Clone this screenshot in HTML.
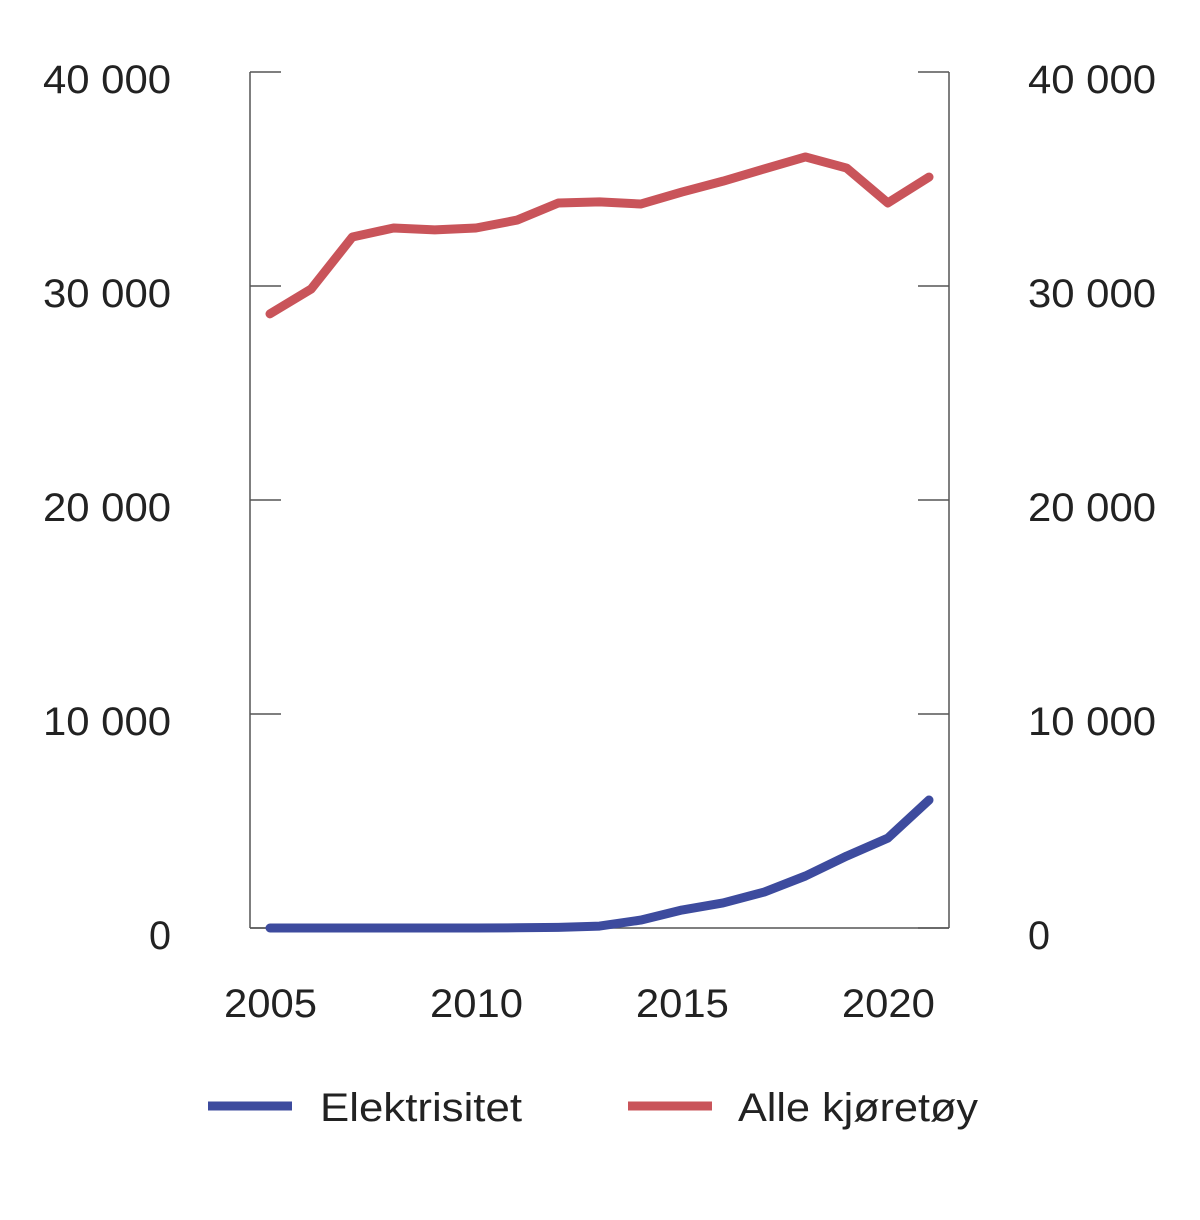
<!DOCTYPE html>
<html><head><meta charset="utf-8"><style>
body{margin:0;background:#fff}
svg text{font-family:"Liberation Sans",sans-serif;font-size:40px;fill:#222}
</style></head><body>
<svg id="chart" width="1200" height="1215" xmlns="http://www.w3.org/2000/svg">
<g id="axes"></g><g id="series"></g>
<g>
<line x1="208" y1="1106" x2="292" y2="1106" stroke="#3d4b9e" stroke-width="9"/>
<text x="320" y="1121" textLength="202" lengthAdjust="spacingAndGlyphs">Elektrisitet</text>
<line x1="628" y1="1106" x2="712" y2="1106" stroke="#c9545a" stroke-width="9"/>
<text x="738" y="1121" textLength="240" lengthAdjust="spacingAndGlyphs">Alle kjøretøy</text>
</g>
</svg>
<script>
const years=[2005,2006,2007,2008,2009,2010,2011,2012,2013,2014,2015,2016,2017,2018,2019,2020,2021];
const alle=[28700,29860,32290,32710,32620,32710,33080,33880,33930,33830,34390,34900,35470,36030,35510,33880,35090];
const elektrisitet=[0,0,0,0,0,0,10,30,90,370,840,1170,1680,2430,3360,4200,5980];
const yTicks=[0,10000,20000,30000,40000];
const yTickLabels=["0","10 000","20 000","30 000","40 000"];
const xTicks=[2005,2010,2015,2020];
const NS="http://www.w3.org/2000/svg";
const x=v=>270+(v-2005)*(929-270)/16;
const y=v=>928-v*856/40000;
function mk(tag,attrs,parent,txt){const e=document.createElementNS(NS,tag);for(const k in attrs)e.setAttribute(k,attrs[k]);if(txt!==undefined)e.textContent=txt;parent.appendChild(e);return e;}
const ax=document.getElementById('axes');
let e=mk('line',{x1:250,y1:72,x2:250,y2:928,stroke:'#555','stroke-width':1.5},ax);


e=mk('line',{x1:949,y1:72,x2:949,y2:928,stroke:'#555','stroke-width':1.5},ax);


e=mk('line',{x1:250,y1:928,x2:949,y2:928,stroke:'#555','stroke-width':1.5},ax);


yTicks.forEach((t,i)=>{
 const yy=y(t);
 const lab=yTickLabels[i];
 const w=lab.length>1?128:22;
 e=mk('line',{x1:250,y1:yy,x2:281,y2:yy,stroke:'#555','stroke-width':1.5},ax);
 
 
 e=mk('line',{x1:918,y1:yy,x2:949,y2:yy,stroke:'#555','stroke-width':1.5},ax);
 
 
 e=mk('text',{x:171-w,y:yy+21,textLength:w,lengthAdjust:'spacingAndGlyphs'},ax,lab);
 
 
 e=mk('text',{x:1028,y:yy+21,textLength:w,lengthAdjust:'spacingAndGlyphs'},ax,lab);
 
 
});
xTicks.forEach(t=>{
 e=mk('text',{x:x(t)-46,y:1017,textLength:93,lengthAdjust:'spacingAndGlyphs'},ax,String(t));
 
 
});
const sg=document.getElementById('series');
function line(vals,color,name){
 const d=vals.map((v,i)=>(i?'L':'M')+x(years[i])+','+y(v)).join('');
 const p=mk('path',{d:d,fill:'none',stroke:color,'stroke-width':9,'stroke-linejoin':'round','stroke-linecap':'round'},sg);
 
 
}
line(alle,'#c9545a','alle-kjoretoy-line');
line(elektrisitet,'#3d4b9e','elektrisitet-line');
</script>
</body></html>
